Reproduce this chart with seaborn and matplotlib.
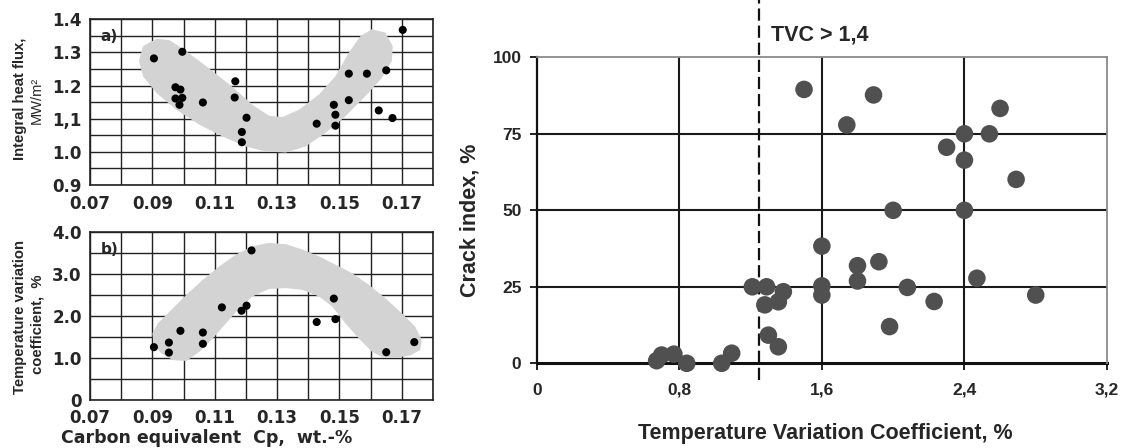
import numpy as np
import matplotlib
matplotlib.use("Agg")
import matplotlib.pyplot as plt
import seaborn as sns

# %% data

# a) integral heat flux vs carbon equivalent
cp_a = [0.0905, 0.0996, 0.0974, 0.0990, 0.0974, 0.0996, 0.0987, 0.1062, 0.1166, 0.1164,
        0.1187, 0.1187, 0.1202, 0.1427, 0.1482, 0.1487, 0.1487, 0.1530, 0.1530, 0.1588,
        0.1650, 0.1626, 0.1670, 0.1703]
flux_a = [1.282, 1.302, 1.195, 1.188, 1.161, 1.163, 1.142, 1.149, 1.213, 1.164,
          1.060, 1.029, 1.103, 1.085, 1.142, 1.112, 1.079, 1.236, 1.156, 1.236,
          1.246, 1.125, 1.102, 1.368]

# b) temperature variation coefficient vs carbon equivalent
cp_b = [0.0905, 0.0953, 0.0953, 0.0990, 0.1062, 0.1062, 0.1123, 0.1186, 0.1202, 0.1218,
        0.1427, 0.1482, 0.1487, 0.1650, 0.1740]
tvc_b = [1.25, 1.36, 1.12, 1.64, 1.60, 1.33, 2.20, 2.12, 2.24, 3.56,
         1.85, 2.41, 1.92, 1.13, 1.37]

# grey trend regions (outline)
zone_a_x = [0.0870, 0.0913, 0.0955, 0.0998, 0.1072, 0.1157, 0.1221, 0.1274, 0.1317, 0.1370,
            0.1434, 0.1487, 0.1530, 0.1567, 0.1604, 0.1647, 0.1671, 0.1668, 0.1636, 0.1583,
            0.1519, 0.1455, 0.1391, 0.1328, 0.1264, 0.1200, 0.1126, 0.1051, 0.0977, 0.0913,
            0.0870, 0.0857]
zone_a_y = [1.319, 1.341, 1.337, 1.311, 1.259, 1.196, 1.142, 1.109, 1.105, 1.127,
            1.173, 1.228, 1.299, 1.349, 1.370, 1.360, 1.319, 1.274, 1.223, 1.168,
            1.107, 1.057, 1.016, 0.998, 1.001, 1.016, 1.046, 1.082, 1.127, 1.178,
            1.228, 1.274]
zone_b_x = [0.0900, 0.0918, 0.0966, 0.1009, 0.1062, 0.1115, 0.1168, 0.1221, 0.1274, 0.1328,
            0.1381, 0.1434, 0.1487, 0.1540, 0.1594, 0.1647, 0.1700, 0.1743, 0.1764, 0.1759,
            0.1727, 0.1679, 0.1636, 0.1604, 0.1562, 0.1519, 0.1477, 0.1434, 0.1381, 0.1328,
            0.1274, 0.1221, 0.1179, 0.1136, 0.1094, 0.1051, 0.1009, 0.0966, 0.0929, 0.0904]
zone_b_y = [1.58, 1.82, 2.18, 2.50, 2.86, 3.18, 3.46, 3.66, 3.74, 3.71,
            3.58, 3.42, 3.22, 3.02, 2.74, 2.42, 2.06, 1.74, 1.42, 1.18,
            1.05, 1.00, 1.02, 1.14, 1.46, 1.82, 2.22, 2.46, 2.62, 2.66,
            2.64, 2.46, 2.18, 1.82, 1.46, 1.14, 0.92, 0.94, 1.10, 1.32]

# c) crack index vs TVC
tvc = [1.50, 1.89, 1.74, 2.60, 2.40, 2.54, 2.30, 2.40, 2.69, 2.00,
       2.40, 1.60, 1.92, 1.80, 1.80, 2.47, 1.60, 1.60, 2.08, 2.23,
       1.98, 2.80, 1.21, 1.29, 1.28, 1.356, 1.384, 1.30, 1.356, 0.673,
       0.701, 0.770, 0.842, 1.038, 1.094]
crack = [89.5, 87.7, 77.9, 83.3, 75.0, 75.0, 70.6, 66.4, 60.1, 50.0,
         50.0, 38.3, 33.2, 31.9, 26.9, 27.8, 25.3, 22.3, 24.8, 20.2,
         12.0, 22.3, 25.0, 25.0, 19.1, 20.1, 23.4, 9.2, 5.4, 0.85,
         2.7, 3.0, 0.0, 0.0, 3.3]
tvc_limit = 1.25

cp_ticks = [0.07, 0.09, 0.11, 0.13, 0.15, 0.17]
cp_minor = [0.08, 0.10, 0.12, 0.14, 0.16, 0.18]
flux_ticks = [0.9, 1.0, 1.1, 1.2, 1.3, 1.4]
flux_labels = ['0.9', '1.0', '1,1', '1.2', '1.3', '1.4']
flux_minor = [0.95, 1.05, 1.15, 1.25, 1.35]
tvcb_ticks = [0, 1, 2, 3, 4]
tvcb_labels = ['0', '1.0', '2.0', '3.0', '4.0']
tvcb_minor = [0.5, 1.5, 2.5, 3.5]
tvc_ticks = [0, 0.8, 1.6, 2.4, 3.2]
tvc_labels = ['0', '0,8', '1,6', '2,4', '3,2']
crack_ticks = [0, 25, 50, 75, 100]

# %% plotting

sns.set_style("white")
plt.rcParams['font.family'] = ['Liberation Sans', 'DejaVu Sans']

W, H = 1126, 448
fig = plt.figure(figsize=(W / 100, H / 100), dpi=100)

ax_a = fig.add_axes([90 / W, 1 - 185 / H, 343 / W, 165.7 / H])
ax_b = fig.add_axes([90 / W, 1 - 399.5 / H, 343 / W, 167.5 / H])
ax_c = fig.add_axes([536.7 / W, 1 - 363.3 / H, 570.3 / W, 306 / H])


def left_panel(ax, x, y, zx, zy, yt, ylab, ymin, yl):
    ax.set_xlim(0.07, 0.18)
    ax.set_ylim(yl)
    ax.set_xticks(cp_ticks)
    ax.set_xticks(cp_minor, minor=True)
    ax.set_xticklabels(['%.2f' % v for v in cp_ticks], family='DejaVu Sans',
                       fontweight='bold', fontsize=12)
    ax.set_yticks(yt)
    ax.set_yticks(ymin, minor=True)
    ax.set_yticklabels(ylab, family='DejaVu Sans', fontweight='bold', fontsize=12)
    ax.tick_params(which='both', length=0)
    ax.tick_params(axis='x', pad=7)
    ax.tick_params(axis='y', pad=6)
    ax.grid(True, which='both', color='#222222', lw=1.0)
    ax.set_axisbelow(True)
    for s in ax.spines.values():
        s.set_color('#222222')
        s.set_linewidth(1.2)
    ax.fill(zx, zy, color='#d3d3d3', lw=0, zorder=2)
    sns.scatterplot(x=x, y=y, ax=ax, color='black', s=34, edgecolor='none', zorder=3)


left_panel(ax_a, cp_a, flux_a, zone_a_x, zone_a_y, flux_ticks, flux_labels,
           flux_minor, (0.9, 1.4))
left_panel(ax_b, cp_b, tvc_b, zone_b_x, zone_b_y, tvcb_ticks, tvcb_labels,
           tvcb_minor, (0, 4))

ax_a.text(0.03, 0.94, 'a)', transform=ax_a.transAxes, family='DejaVu Sans',
          fontweight='bold', fontsize=11, ha='left', va='top')
ax_b.text(0.03, 0.94, 'b)', transform=ax_b.transAxes, family='DejaVu Sans',
          fontweight='bold', fontsize=11, ha='left', va='top')

# right panel
ax_c.set_xlim(0, 3.2)
ax_c.set_ylim(0, 100)
for v in tvc_ticks[1:-1]:
    ax_c.axvline(v, color='#1a1a1a', lw=1.5, zorder=1)
for v in crack_ticks[1:-1]:
    ax_c.axhline(v, color='#1a1a1a', lw=1.5, zorder=1)
sns.scatterplot(x=tvc, y=crack, ax=ax_c, color='#505050', s=160, edgecolor='none', zorder=3)
ax_c.collections[-1].set_clip_on(False)
ax_c.axvline(tvc_limit, ymin=-0.055, ymax=1.19, clip_on=False, color='#111111',
             lw=1.6, ls=(0, (5.5, 2.2)), zorder=2)
ax_c.set_xticks(tvc_ticks)
ax_c.set_xticklabels(tvc_labels, fontweight='bold', fontsize=12.5)
ax_c.set_yticks(crack_ticks)
ax_c.set_yticklabels(crack_ticks, fontweight='bold', fontsize=12.5)
ax_c.tick_params(direction='out', length=5, width=1.3, color='#111111', left=True, bottom=True)
ax_c.tick_params(axis='x', pad=9)
ax_c.tick_params(axis='y', pad=6)
ax_c.spines['left'].set_color('#111111')
ax_c.spines['left'].set_linewidth(1.6)
ax_c.spines['bottom'].set_color('#111111')
ax_c.spines['bottom'].set_linewidth(2.2)
ax_c.spines['bottom'].set_zorder(2)
for s in ['top', 'right']:
    ax_c.spines[s].set_color('#8a8a8a')
    ax_c.spines[s].set_linewidth(1.3)

# labels placed by pixel position


def ftext(x, y, s, **kw):
    fig.text(x / W, 1 - y / H, s, ha='center', va='center', **kw)


ftext(20, 98.5, 'Integral heat flux,', rotation=90, fontweight='bold', fontsize=10.7)
ftext(36.7, 100.5, 'MW/m²', rotation=90, fontsize=10.5)
ftext(20, 317.5, 'Temperature variation', rotation=90, fontweight='bold', fontsize=10.7)
ftext(38, 324.5, 'coefficient,  %', rotation=90, fontweight='bold', fontsize=10.7)
ftext(207, 438, 'Carbon equivalent  Cp,  wt.-%', family='DejaVu Sans',
      fontweight='bold', fontsize=12.5)
ftext(470, 220, 'Crack index, %', rotation=90, fontweight='bold', fontsize=15.5)
ftext(825, 433, 'Temperature Variation Coefficient, %', fontweight='bold', fontsize=15.5)
fig.text(771 / W, 1 - 34.5 / H, 'TVC > 1,4', ha='left', va='center',
         fontweight='bold', fontsize=15.5)

fig.savefig('out.png', dpi=100)
